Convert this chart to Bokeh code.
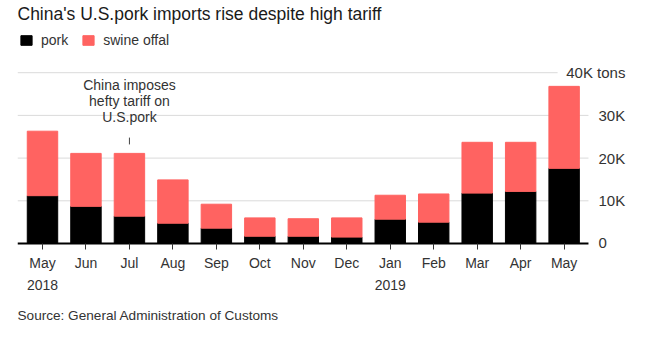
from bokeh.plotting import figure
from bokeh.models import (ColumnDataSource, FixedTicker, Legend, LegendItem, Title, Range1d)
from bokeh.core.properties import value
from bokeh.embed import file_html
from bokeh.resources import INLINE

title_text = "China's U.S.pork imports rise despite high tariff"
source_text = "Source: General Administration of Customs"
months = ["May", "Jun", "Jul", "Aug", "Sep", "Oct", "Nov", "Dec", "Jan", "Feb", "Mar", "Apr", "May"]
years = {0: "2018", 8: "2019"}
pork = [11200, 8700, 6400, 4750, 3600, 1700, 1700, 1500, 5700, 5000, 11800, 12200, 17600]
offal = [15100, 12400, 14700, 10150, 5600, 4300, 4100, 4500, 5600, 6600, 11900, 11500, 19200]
y_ticks = [0, 10000, 20000, 30000, 40000]
y_labels = ["0", "10K", "20K", "30K", "40K tons"]
note_text = "China imposes\nhefty tariff on\nU.S.pork"
note_month = 2

FONT = "Liberation Sans"
PINK = "#ff6361"
TXT = "#333333"
GRID = "#dadada"

X0, X1 = -0.575, 14.01          # visible x range (category units)
Y0, Y1 = -2108, 56909           # visible y range (tons); frame spans whole top area
PLOT_END = 12.56                # right end of grid / baseline
LAB_X = 12.79                   # left edge of tick labels
TOP_LAB_X = 13.41               # right edge of the top tick label
TITLE_Y = 53750

xs = list(range(len(months)))
src = ColumnDataSource(dict(x=xs, pork=pork, offal=offal))

p = figure(width=651, height=344, output_backend="svg", toolbar_location=None,
           x_range=Range1d(X0, X1), y_range=Range1d(Y0, Y1),
           min_border_left=17, min_border_right=0, min_border_top=0, min_border_bottom=92)
p.outline_line_color = None
p.background_fill_color = "white"
p.border_fill_color = "white"
p.yaxis.visible = False
p.xgrid.visible = False
p.ygrid.visible = False

# gridlines (top one stops short of its label)
grid_end = [PLOT_END] * (len(y_ticks) - 1) + [11.85]
p.segment(x0=[X0] * (len(y_ticks) - 1), y0=y_ticks[1:], x1=grid_end[1:], y1=y_ticks[1:],
          line_color=GRID, line_width=1)

rs = p.vbar_stack(["pork", "offal"], x="x", width=0.70, color=["#000000", PINK], source=src)

# baseline
p.segment(x0=[X0], y0=[0], x1=[PLOT_END], y1=[0], line_color="#000000", line_width=2)

# y tick labels on the right
lab_src = ColumnDataSource(dict(
    x=[LAB_X] * (len(y_ticks) - 1) + [TOP_LAB_X],
    y=y_ticks, text=y_labels,
    align=["left"] * (len(y_ticks) - 1) + ["right"]))
p.text(x="x", y="y", text="text", text_align="align", text_baseline="middle", source=lab_src,
       text_font=value(FONT), text_font_size="15px", text_color=TXT)

# title
p.text(x=[X0], y=[TITLE_Y], text=[title_text], text_align="left", text_baseline="middle",
       text_font=value(FONT), text_font_size="17.5px", text_color="#1a1a1a")

# x axis
xa = p.xaxis[0]
xa.ticker = FixedTicker(ticks=xs)
xa.major_label_overrides = {i: (m + "\n" + years[i] if i in years else m) for i, m in enumerate(months)}
xa.axis_line_color = None
xa.major_tick_line_color = "#333333"
xa.major_tick_in = 9
xa.major_tick_out = -3
xa.minor_tick_line_color = None
xa.minor_tick_in = 0
xa.minor_tick_out = 0
xa.major_label_text_font = FONT
xa.major_label_text_font_size = "14px"
xa.major_label_text_color = TXT
xa.major_label_standoff = 2
xa.major_label_text_line_height = 1.4

# annotation
p.text(x=[note_month], y=[27700], text=[note_text], text_align="center", text_baseline="bottom",
       text_font=value(FONT), text_font_size="14px", text_color=TXT, text_line_height=1.0)
p.segment(x0=[note_month], y0=[23200], x1=[note_month], y1=[24800], line_color="#444444", line_width=1)

# legend
legend = Legend(items=[LegendItem(label="pork", renderers=[rs[0]]),
                       LegendItem(label="swine offal", renderers=[rs[1]])],
                orientation="horizontal", location=(2, 204))
legend.glyph_width = 14
legend.glyph_height = 12
legend.label_standoff = 8
legend.spacing = 13
legend.padding = 2
legend.margin = 0
legend.label_text_font = FONT
legend.label_text_font_size = "14px"
legend.label_text_color = TXT
legend.label_height = 14
legend.border_line_color = None
legend.background_fill_alpha = 0
p.add_layout(legend, "center")

src_title = Title(text=source_text, align="left", standoff=20,
                  text_font=FONT, text_font_size="13.6px", text_font_style="normal", text_color=TXT)
p.add_layout(src_title, "below")

open("out.html", "w").write(file_html(p, INLINE))
